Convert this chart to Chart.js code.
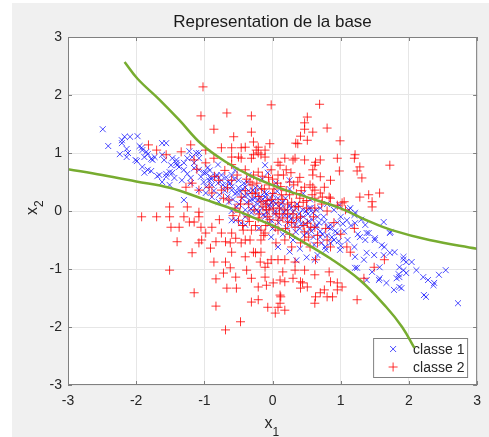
<!DOCTYPE html>
<html>
<head>
<meta charset="utf-8">
<title>Representation de la base</title>
<script src="https://cdn.jsdelivr.net/npm/chart.js@4.4.0/dist/chart.umd.min.js"></script>
<style>
    html, body { margin: 0; padding: 0; background: #ffffff; }
    canvas { display: block; }
</style>
</head>
<body>
<canvas id="baseChart" width="489" height="437"></canvas>
<script>
// Titre, axes, legende
const chartTitle = 'Representation de la base';
const axisTicks = [-3, -2, -1, 0, 1, 2, 3];
const legendLabels = ['classe 1', 'classe 2'];

// Classe 1 (x bleus) - [x1, x2]
const classe1 = [
    [-2.49, 1.41], [-2.41, 1.12], [-2.21, 1.22], [-2.17, 1.28], [-2.09, 1.28], [-1.98, 1.29], [-2.21, 1.17], [-2.24, 0.98],
    [-2.14, 1.07], [-2.12, 1.00], [-2.14, 0.93], [-1.95, 1.12], [-1.91, 1.05], [-1.85, 1.02], [-1.83, 0.98], [-1.88, 0.93],
    [-1.99, 0.86], [-1.78, 0.90], [-1.73, 0.93], [-1.62, 1.17], [-1.56, 1.17], [-1.62, 0.97], [-1.59, 0.88], [-1.91, 0.76],
    [-1.83, 0.71], [-1.78, 0.69], [-1.88, 0.66], [-1.47, 0.91], [-1.41, 0.83], [-1.37, 0.76], [-1.30, 0.71], [-1.25, 0.64],
    [-1.22, 1.03], [-1.12, 1.00], [-1.08, 1.00], [-1.08, 0.91], [-1.15, 0.83], [-1.69, 0.60], [-1.56, 0.64], [-1.62, 0.50],
    [-1.51, 0.67], [-1.44, 0.57], [-1.33, 0.53], [-1.20, 0.57], [-1.05, 0.59], [-1.01, 0.66], [-1.01, 0.50], [-0.91, 0.59],
    [-1.51, 0.45], [-2.01, 0.88], [-1.92, 1.09], [-1.76, 0.88], [-1.41, 0.88], [-1.40, 0.79], [-1.49, 0.79], [-1.66, 0.62],
    [-1.56, 0.59], [-1.47, 0.66], [-1.30, 0.83], [-1.25, 0.91], [-1.18, 0.93], [-1.15, 0.74], [-1.08, 0.71], [-0.98, 0.66],
    [-0.93, 0.53], [-0.89, 0.45], [-0.83, 0.59], [-0.75, 0.53], [-0.69, 0.41], [-0.60, 0.62], [-0.60, 0.36], [-0.50, 0.53],
    [-0.47, 0.33], [-0.40, 0.41], [-0.36, 0.28], [-0.25, 0.31], [-0.21, 0.19], [-0.11, 0.24], [-0.02, 0.14], [-1.30, 0.19],
    [-1.20, 0.48], [-1.08, 0.36], [-0.98, 0.31], [-0.89, 0.24], [-0.79, 0.16], [-0.64, 0.16], [-0.53, 0.07], [-0.40, 0.02],
    [-0.31, -0.03], [-0.21, -0.02], [-0.11, -0.10], [-0.02, -0.16], [-0.60, -0.16], [-0.46, -0.21],
    [0.98, 0.10], [1.14, 0.05], [1.21, -0.03], [1.09, -0.16], [1.21, -0.21], [1.36, -0.24], [1.41, -0.38], [1.28, -0.45],
    [1.36, -0.50], [1.50, -0.47], [1.60, -0.59], [1.64, -0.62], [1.79, -0.71], [1.72, -0.72], [1.63, -0.76], [1.49, -0.76],
    [1.38, -0.72], [1.34, -0.84], [1.21, -0.79], [1.24, -0.98], [1.56, -1.19], [1.67, -1.24], [1.78, -1.36], [1.57, -0.97],
    [1.89, -1.33], [1.82, -1.16], [1.85, -1.09], [1.92, -1.02], [1.96, -0.88], [1.92, -0.84], [2.04, -0.88], [2.11, -1.02],
    [1.96, -1.07], [1.86, -1.14], [2.21, -1.14], [2.22, -1.45], [2.25, -1.48], [2.36, -1.28], [2.44, -1.10], [2.54, -1.02],
    [2.72, -1.59], [1.63, -0.19], [1.72, -0.38], [0.95, -0.38], [0.85, -0.55], [0.99, -0.67], [0.66, -0.76], [0.62, -0.84],
    [0.78, -0.67], [0.70, -0.45], [0.63, -0.28], [0.66, -0.10], [0.76, -0.19], [0.85, -0.24], [0.54, 0.05], [0.44, 0.02],
    [0.59, -0.03], [1.73, -0.36], [1.20, -0.07], [1.38, -0.38], [1.50, -0.50], [1.92, -0.79], [1.86, -0.97], [2.28, -1.19],
    [2.37, -1.24], [1.86, -1.31], [1.57, -1.16], [1.46, -1.05], [1.21, -0.98], [1.38, -1.19], [1.12, 0.02],
    [-0.90, 0.55], [-0.80, 0.48], [-0.75, 0.62], [-0.70, 0.35], [-0.65, 0.50], [-0.60, 0.42], [-0.55, 0.30], [-0.50, 0.40],
    [-0.45, 0.22], [-0.42, 0.48], [-0.38, 0.15], [-0.35, 0.35], [-0.30, 0.20], [-0.28, 0.08], [-0.25, 0.40], [-0.22, 0.12],
    [-0.18, 0.25], [-0.15, 0.05], [-0.12, 0.32], [-0.10, 0.15], [-0.08, -0.02], [-0.05, 0.20], [-0.02, 0.08], [0.00, 0.28],
    [0.03, -0.05], [0.05, 0.12], [0.08, 0.22], [0.10, -0.12], [0.12, 0.05], [0.15, 0.15], [0.18, -0.08], [0.20, 0.02],
    [0.22, -0.20], [0.25, 0.10], [0.28, -0.12], [0.30, -0.02], [0.33, -0.25], [0.35, 0.05], [0.38, -0.15], [0.40, -0.30],
    [0.45, -0.10], [0.48, -0.22], [0.50, -0.38], [0.52, -0.05], [0.55, -0.30], [0.58, -0.15], [0.60, -0.45], [0.65, -0.25],
    [0.70, -0.35], [0.72, -0.55], [0.75, -0.10], [0.80, -0.42], [0.85, -0.30], [0.90, -0.50], [0.95, -0.20], [1.00, -0.60],
    [1.05, -0.35], [1.10, -0.50], [1.15, -0.25], [1.20, -0.62], [1.25, -0.40], [1.30, -0.15], [0.70, 0.05], [0.55, 0.20],
    [0.80, 0.12], [-0.20, -0.30], [0.00, -0.30], [0.15, -0.40], [0.30, -0.50], [-0.40, -0.10], [-0.60, 0.00], [0.45, 0.30],
    [0.25, 0.38], [0.05, 0.48], [-0.15, 0.55], [-0.35, 0.62], [-0.55, 0.70], [-0.80, 0.80], [-0.95, 0.75], [0.90, 0.02],
    [1.00, -0.10], [-0.11, 0.79], [0.25, 0.53], [-0.07, 0.66], [0.56, 0.05], [-0.54, -0.16], [-0.40, -0.24], [-0.02, -0.45],
    [0.08, -0.62], [0.25, -0.70], [0.40, -0.65], [0.50, -0.80], [0.35, -0.85],
    [-0.97, 0.42], [-0.92, 0.70], [-0.86, 0.35], [-0.82, 0.62], [-0.78, 0.28], [-0.73, 0.45], [-0.68, 0.58], [-0.66, 0.25],
    [-0.62, 0.48], [-0.58, 0.20], [-0.56, 0.55], [-0.52, 0.32], [-0.49, 0.12], [-0.44, 0.38], [-0.41, 0.26], [-0.37, 0.50],
    [-0.33, 0.18], [-0.32, 0.04], [-0.29, 0.36], [-0.26, 0.22], [-0.23, 0.02], [-0.19, 0.40], [-0.16, 0.18], [-0.13, -0.06],
    [-0.09, 0.30], [-0.06, 0.08], [-0.04, -0.22], [0.01, 0.18], [0.04, 0.00], [0.07, 0.34], [0.09, -0.20], [0.13, 0.12],
    [0.16, -0.02], [0.19, 0.22], [0.21, -0.30], [0.24, -0.10], [0.27, 0.05], [0.31, -0.18], [0.34, -0.36], [0.36, 0.12],
    [0.39, -0.05], [0.42, -0.22], [0.46, -0.42], [0.49, 0.00], [0.53, -0.18], [0.57, -0.35], [0.61, -0.58], [0.64, 0.02],
    [0.68, -0.20], [0.73, -0.40], [0.77, -0.62], [0.81, -0.28], [0.87, -0.45], [0.92, -0.35], [0.97, -0.52], [1.03, -0.22]
];

// Classe 2 (+ rouges) - [x1, x2]
const classe2 = [
    [-1.02, 2.14], [-0.02, 1.83], [0.69, 1.84], [-1.05, 1.64], [-0.67, 1.69], [-0.31, 1.64], [0.51, 1.62], [0.47, 1.52],
    [0.47, 1.41], [0.59, 1.36], [0.80, 1.43], [-0.86, 1.41], [-0.31, 1.36], [-0.57, 1.28], [0.41, 1.29], [0.51, 1.22],
    [0.37, 1.16], [0.99, 1.21], [-0.04, 1.16], [1.72, 0.79], [1.21, 0.97], [1.20, 0.91], [0.95, 0.91], [1.28, 0.76],
    [1.24, 0.69], [1.31, 0.57], [1.57, 0.31], [1.41, 0.28], [1.28, 0.24], [1.46, 0.07], [0.98, 0.69], [0.85, 0.53],
    [0.70, 0.59], [0.63, 0.84], [0.59, 0.71], [0.47, 0.88], [0.33, 0.91], [0.18, 0.91], [0.08, 0.84], [0.20, 0.71],
    [0.37, 0.50], [0.62, 0.36], [0.70, 0.31], [-0.11, 1.05], [-0.17, 0.97], [-0.28, 1.19], [-0.24, 1.05], [-0.46, 1.09],
    [-0.60, 1.09], [-0.75, 1.09], [-0.46, 0.91], [-0.31, 0.91], [-0.60, 0.93], [-1.82, 1.14], [-1.20, 1.14], [-0.98, 1.05],
    [-0.86, 0.91], [-0.21, 1.00], [-1.70, 1.05], [-1.56, 0.97], [-1.34, 1.02], [-1.15, 0.88], [-1.11, 0.72], [-0.98, 0.83],
    [-1.51, 0.07], [-1.25, 0.07], [-1.92, -0.10], [-1.70, -0.10], [-1.51, -0.10], [-1.30, -0.10], [-1.15, -0.19], [-1.37, -0.28],
    [-1.49, -0.28], [-1.40, -0.53], [-1.08, -0.02], [-1.05, -0.28], [-0.98, -0.38], [-1.08, -0.55], [-1.18, -0.72], [-0.91, -0.64],
    [-0.86, -0.88], [-1.51, -1.02], [-1.15, -1.41], [-0.83, -1.17], [-0.69, -0.88], [-0.62, -0.98], [-0.54, -1.14], [-0.67, -1.33],
    [-0.53, -1.33], [-0.83, -1.64], [-0.47, -1.91], [-0.69, -2.05], [-0.75, -0.38], [-0.69, -0.53], [-0.54, -0.47], [-0.60, -0.71],
    [-0.46, -0.55], [-0.40, -0.79], [-0.28, -0.71], [-0.17, -0.50], [-0.17, -0.71], [-0.38, -1.02], [-0.31, -1.16], [-0.21, -1.31],
    [-0.09, -1.28], [-0.02, -0.84], [0.08, -0.84], [0.15, -1.05], [0.11, -1.19], [0.18, -1.22], [0.11, -1.45], [-0.21, -1.53],
    [-0.31, -1.57], [-0.07, -1.66], [0.08, -1.66], [0.18, -1.71], [0.04, -1.76], [-0.11, -1.14], [-0.07, -0.90], [-0.33, -0.50],
    [-0.43, -0.33], [-0.31, -0.33], [-0.17, -0.33], [-0.72, -1.07], [-0.25, -0.72], [-0.18, -0.88], [-0.11, -0.97], [0.01, -1.24],
    [0.18, -0.84], [0.33, -0.88], [0.33, -1.02], [0.30, -1.16], [0.41, -1.22], [0.41, -1.33], [0.12, -1.48], [0.11, -1.59],
    [0.62, -1.10], [0.70, -1.41], [0.62, -1.59], [0.80, -1.48], [0.88, -1.48], [0.95, -1.24], [1.02, -1.31], [0.83, -1.05],
    [0.63, -0.84], [1.46, 0.16], [1.05, 0.16], [0.95, 0.10], [0.83, 0.24], [0.62, 0.22], [0.41, -0.10], [0.51, -0.21],
    [0.56, -0.28], [0.47, -0.50], [0.41, -0.55], [0.66, -0.55], [0.80, -0.50], [0.85, -0.62], [1.09, -0.62], [1.14, -0.71],
    [1.49, -0.97], [1.64, -0.84], [1.34, -1.16], [0.85, -1.22], [0.95, -1.36], [0.76, -1.36], [0.44, -1.24], [0.51, -1.31],
    [0.47, -1.02], [0.63, -1.48], [1.24, -1.53], [0.59, 0.41], [0.85, 0.22], [1.02, 0.14], [1.07, 0.02],
    [-0.40, 1.10], [-0.21, 1.10], [0.34, 1.17], [-0.50, 0.93], [-0.28, 0.97], [-0.11, 0.93], [0.30, 0.88], [0.62, 0.79],
    [0.70, 0.88], [0.11, 0.79], [-0.02, 0.71], [-0.21, 0.67], [-0.40, 0.71], [-0.79, 0.53], [-0.60, 0.53], [-0.33, 0.50],
    [0.08, 0.62], [0.27, 0.66], [0.59, 0.62], [0.47, 0.41], [0.76, 0.41], [0.73, 0.24], [-1.27, 0.41], [-1.18, 0.48],
    [-1.08, 0.36], [-0.93, 0.41], [-0.89, 0.31], [-0.75, 0.36], [-0.64, 0.19], [-0.46, 0.24], [-0.25, 0.31], [-0.14, 0.07],
    [-0.09, 0.02], [0.01, 0.05], [-0.17, 0.16], [0.08, 0.14], [0.18, 0.02], [0.33, 0.07], [0.62, -0.28], [0.47, -0.36],
    [0.33, -0.28], [0.22, -0.19], [0.08, -0.16], [-0.07, -0.10], [-0.21, -0.12], [-0.36, -0.10], [-0.50, -0.16], [0.08, -0.33],
    [-0.11, -0.38], [0.18, -0.50], [-0.40, -0.50], [-0.60, -0.38], [-0.89, -0.28], [-1.08, -0.10], [-1.22, -0.19], [-1.04, -0.50],
    [-0.83, -0.53], [0.00, 0.30], [0.20, 0.35], [-0.30, 0.45], [0.15, 0.20], [-0.05, 0.45], [0.45, 0.15], [0.30, -0.05],
    [-0.25, -0.25], [0.50, 0.05], [0.05, -0.55], [-0.55, 0.05], [0.25, 0.50], [-0.15, 0.60], [0.60, -0.10], [0.35, 0.30],
    [-0.40, 0.35], [0.10, 0.05], [-0.10, -0.25], [0.25, -0.40], [0.55, 0.45], [0.90, -0.20], [1.00, -0.40], [0.80, 0.00],
    [1.20, -0.30], [-0.70, 0.70], [-0.85, 0.60], [-0.60, 0.80], [0.00, 0.55], [-0.20, 0.25], [0.12, 0.42], [-0.08, 0.18],
    [0.22, -0.05], [0.40, 0.22], [-0.35, 0.12], [-0.48, -0.02], [0.05, -0.05], [0.28, 0.15], [-0.12, 0.38],
    [-0.72, 0.22], [-0.66, 0.40], [-0.58, -0.08], [-0.52, 0.62], [-0.47, 0.12], [-0.44, -0.25], [-0.38, 0.55], [-0.34, -0.18],
    [-0.30, 0.30], [-0.27, 0.02], [-0.23, 0.48], [-0.19, -0.05], [-0.16, 0.38], [-0.13, -0.42], [-0.10, 0.12], [-0.06, 0.58],
    [-0.04, -0.15], [-0.01, 0.20], [0.02, 0.38], [0.04, -0.28], [0.07, 0.48], [0.10, -0.05], [0.13, 0.28], [0.16, 0.62],
    [0.19, -0.30], [0.22, 0.12], [0.25, 0.28], [0.28, -0.20], [0.31, 0.45], [0.35, -0.12], [0.38, 0.08], [0.42, 0.35],
    [0.45, -0.25], [0.50, 0.18], [0.53, -0.45], [0.58, 0.28], [0.62, 0.05], [0.66, -0.42], [0.72, 0.12], [0.78, -0.30],
    [-0.05, 0.02], [0.15, -0.12], [-0.28, 0.62], [0.40, 0.58], [-0.62, -0.55], [0.28, -0.62], [0.55, -0.62], [-0.78, -0.15]
];

// Frontiere de decision (deux branches)
const frontiereHaut = [
    [-2.17, 2.57], [-1.98, 2.28], [-1.66, 1.92], [-1.37, 1.57], [-1.04, 1.15], [-0.69, 0.85], [-0.31, 0.60],
    [0.10, 0.40], [0.50, 0.24], [0.99, 0.05], [1.40, -0.17], [1.75, -0.33], [2.30, -0.50], [3.00, -0.65]
];
const frontiereBas = [
    [-3.00, 0.72], [-2.50, 0.62], [-2.00, 0.51], [-1.51, 0.40], [-1.00, 0.20], [-0.60, 0.04], [-0.21, -0.15],
    [0.08, -0.29], [0.40, -0.50], [0.85, -0.82], [1.28, -1.19], [1.67, -1.66], [1.90, -2.00], [2.08, -2.36]
];

const FONT = '"Liberation Sans", Arial, Helvetica, sans-serif';
const TEXT_COLOR = '#262626';
const FRAME_COLOR = '#808080';
const BLUE = 'rgba(0, 0, 255, 0.7)';
const RED = 'rgba(255, 0, 0, 0.8)';
const GREEN = '#77ac30';

const toXY = pts => pts.map(p => ({ x: p[0], y: p[1] }));

// Fond gris de la figure, cadre, titre, libelles et legende facon MATLAB
const figurePlugin = {
    id: 'figure',
    beforeDraw(chart) {
        const { ctx, chartArea: a, width, height } = chart;
        ctx.save();
        ctx.fillStyle = '#ffffff';
        ctx.fillRect(0, 0, width, height);
        ctx.fillStyle = '#f0f0f0';
        ctx.fillRect(12, 3, width - 12, height - 3);
        ctx.fillStyle = '#ffffff';
        ctx.fillRect(a.left, a.top, a.right - a.left, a.bottom - a.top);
        ctx.restore();
    },
    beforeDatasetsDraw(chart) {
        // Legende (sous les courbes, comme sur la figure)
        const { ctx, chartArea: a } = chart;
        const lx = a.right - 104, ly = a.bottom - 47, lw = 94, lh = 39;
        ctx.save();
        ctx.fillStyle = '#ffffff';
        ctx.fillRect(lx, ly, lw, lh);
        ctx.strokeStyle = FRAME_COLOR;
        ctx.lineWidth = 1;
        ctx.strokeRect(lx + 0.5, ly + 0.5, lw, lh);
        const rows = [ly + 11, ly + 29];
        const mx = lx + 20;
        // marqueur x
        ctx.strokeStyle = BLUE;
        ctx.beginPath();
        ctx.moveTo(mx - 3, rows[0] - 3); ctx.lineTo(mx + 3, rows[0] + 3);
        ctx.moveTo(mx - 3, rows[0] + 3); ctx.lineTo(mx + 3, rows[0] - 3);
        ctx.stroke();
        // marqueur +
        ctx.strokeStyle = RED;
        ctx.beginPath();
        ctx.moveTo(mx - 4.5, rows[1]); ctx.lineTo(mx + 4.5, rows[1]);
        ctx.moveTo(mx, rows[1] - 4.5); ctx.lineTo(mx, rows[1] + 4.5);
        ctx.stroke();
        ctx.fillStyle = TEXT_COLOR;
        ctx.font = '14px ' + FONT;
        ctx.textAlign = 'left';
        ctx.textBaseline = 'middle';
        legendLabels.forEach((label, i) => ctx.fillText(label, lx + 40, rows[i] + 1));
        ctx.restore();
    },
    afterDraw(chart) {
        const { ctx, chartArea: a, scales } = chart;
        ctx.save();
        // cadre + graduations interieures
        ctx.strokeStyle = FRAME_COLOR;
        ctx.lineWidth = 1;
        ctx.strokeRect(a.left + 0.5, a.top + 0.5, a.right - a.left - 1, a.bottom - a.top - 1);
        ctx.beginPath();
        axisTicks.forEach(v => {
            const px = Math.round(scales.x.getPixelForValue(v)) + 0.5;
            ctx.moveTo(px, a.bottom); ctx.lineTo(px, a.bottom - 4);
            ctx.moveTo(px, a.top); ctx.lineTo(px, a.top + 4);
            const py = Math.round(scales.y.getPixelForValue(v)) + 0.5;
            ctx.moveTo(a.left, py); ctx.lineTo(a.left + 4, py);
            ctx.moveTo(a.right, py); ctx.lineTo(a.right - 4, py);
        });
        ctx.stroke();

        // titre
        ctx.fillStyle = '#1a1a1a';
        ctx.font = '17px ' + FONT;
        ctx.textAlign = 'center';
        ctx.textBaseline = 'middle';
        ctx.fillText(chartTitle, (a.left + a.right) / 2, 22);

        // x1
        ctx.fillStyle = TEXT_COLOR;
        ctx.textAlign = 'left';
        ctx.textBaseline = 'alphabetic';
        ctx.font = '16px ' + FONT;
        const cx = (a.left + a.right) / 2;
        const wx = ctx.measureText('x').width;
        ctx.fillText('x', cx - wx, 428);
        ctx.font = '12px ' + FONT;
        ctx.fillText('1', cx, 436);

        // x2 (vertical)
        ctx.translate(37, a.top + (a.bottom - a.top) / 2 + 4);
        ctx.rotate(-Math.PI / 2);
        ctx.font = '16px ' + FONT;
        ctx.fillText('x', 0, 0);
        ctx.font = '12px ' + FONT;
        ctx.fillText('2', wx, 6);
        ctx.restore();
    }
};

const axisOptions = {
    type: 'linear',
    min: -3,
    max: 3,
    afterBuildTicks: scale => { scale.ticks = axisTicks.map(v => ({ value: v })); },
    grid: { color: '#e6e6e6', lineWidth: 1, drawTicks: false },
    border: { display: false },
    ticks: {
        color: TEXT_COLOR,
        font: { family: FONT, size: 14 },
        callback: v => String(v)
    }
};

new Chart(document.getElementById('baseChart'), {
    type: 'scatter',
    data: {
        datasets: [
            {
                label: legendLabels[0],
                data: toXY(classe1),
                pointStyle: 'crossRot',
                pointRadius: 4.2,
                borderColor: BLUE,
                backgroundColor: BLUE,
                borderWidth: 1,
                order: 2
            },
            {
                label: legendLabels[1],
                data: toXY(classe2),
                pointStyle: 'cross',
                pointRadius: 4.5,
                borderColor: RED,
                backgroundColor: RED,
                borderWidth: 1,
                order: 1
            },
            {
                label: 'frontiere haut',
                data: toXY(frontiereHaut),
                showLine: true,
                pointRadius: 0,
                borderColor: GREEN,
                borderWidth: 2.5,
                tension: 0.4,
                order: 0
            },
            {
                label: 'frontiere bas',
                data: toXY(frontiereBas),
                showLine: true,
                pointRadius: 0,
                borderColor: GREEN,
                borderWidth: 2.5,
                tension: 0.4,
                order: 0
            }
        ]
    },
    options: {
        responsive: false,
        devicePixelRatio: 1,
        animation: false,
        events: [],
        layout: { padding: { top: 37, right: 8, left: 0, bottom: 0 } },
        plugins: {
            legend: { display: false },
            tooltip: { enabled: false },
            title: { display: false }
        },
        scales: {
            x: Object.assign({}, axisOptions, {
                position: 'bottom',
                ticks: Object.assign({}, axisOptions.ticks, { padding: 8 }),
                afterFit: scale => { scale.height = 52; }
            }),
            y: Object.assign({}, axisOptions, {
                position: 'left',
                ticks: Object.assign({}, axisOptions.ticks, { padding: 6 }),
                afterFit: scale => { scale.width = 68; }
            })
        }
    },
    plugins: [figurePlugin]
});
</script>
</body>
</html>
